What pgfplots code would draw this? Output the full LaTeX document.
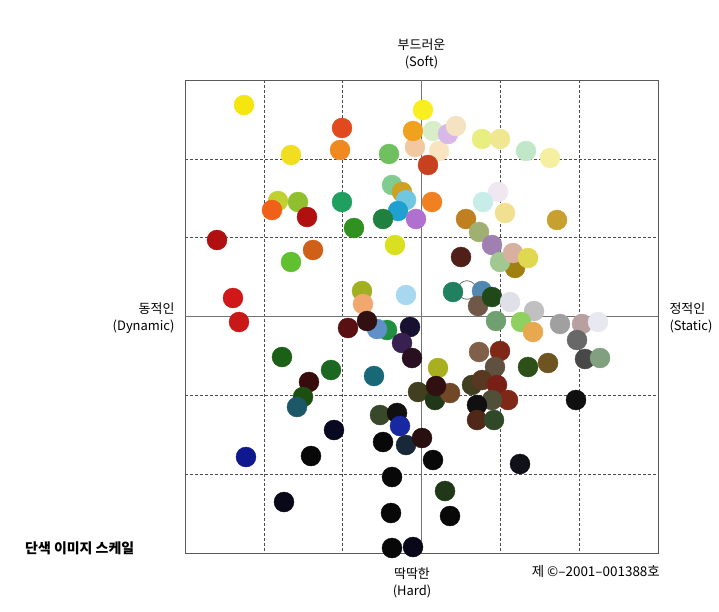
\documentclass[border=0pt]{standalone}
\usepackage{pgfplots}
\pgfplotsset{compat=1.18}
\usepackage{fontspec}
\setmainfont{Noto Sans CJK KR}
\begin{document}
\begin{tikzpicture}
\useasboundingbox (-185bp,-59bp) rectangle (534bp,553bp);
\begin{axis}[
 at={(0,0)}, anchor=south west,
 width=473bp, height=473bp, scale only axis,
 xmin=185, xmax=658, ymin=80, ymax=553, y dir=reverse,
 xtick={263.83,342.67,500.33,579.17}, ytick={158.83,237.67,395.33,474.17},
 xticklabels={}, yticklabels={}, major tick length=0pt,
 grid=major, grid style={densely dashed, draw=black!70, line width=0.6pt},
 extra x ticks={421.5}, extra y ticks={316.5},
 extra x tick labels={}, extra y tick labels={},
 extra tick style={grid style={solid, draw=black!55, line width=0.8pt}, major tick length=0pt},
 axis line style={draw=black!65, line width=0.7pt},
 clip=false,
]
\addplot[only marks, mark=*, mark size=9.3bp, mark options={fill=white, draw=black!55, line width=0.8pt}] coordinates {(467,290)};
\addplot[scatter, only marks, mark=*, mark size=10bp,
 visualization depends on={value \thisrow{c}\as\dotcol},
 scatter/@pre marker code/.code={\edef\tmpdef{\noexpand\definecolor{dotc}{HTML}{\dotcol}}\tmpdef\scope[fill=dotc, draw=dotc]},
 scatter/@post marker code/.code={\endscope}] table {
x y c
244 105 F5E610
423 110 F8EE20
342 128 E04A1E
415 147 F2C8A0
439 151 F8E4C0
413 131 F0A21E
433 131 D8EEC8
448 134 D8B8E8
456 126 F5E2C2
482 139 E8EE80
500 139 F0E890
526 151 C0E8C8
550 158 F5F0A0
291 155 F2DE20
340 150 F08A20
389 154 70C060
428 165 C84020
278 201 C0D030
272 210 F06018
298 202 90C030
307 217 B01010
342 202 20A060
217 240 B01010
392 185 80CC90
402 192 D0A020
406 200 70C8E0
398 211 20A0D0
383 219 208040
416 219 B070D0
432 202 F08020
354 228 309020
395 245 D8E020
466 219 C08020
479 232 A0B070
498 192 F0E8F0
483 202 C8ECE8
505 213 F0E090
557 220 C8A030
492 245 A080B0
291 262 60C030
313 250 D06018
233 298 D01818
239 322 C81818
515 268 A08010
500 262 A0C890
513 253 D8B0A0
528 258 E0D850
461 257 502018
362 291 A0B020
363 304 F0A870
406 295 A8D8F0
453 292 208060
482 291 5088B0
478 306 705848
492 297 204818
510 302 E0E0E8
534 311 C0C0C0
496 321 70A070
521 322 90D060
533 332 E8A850
560 324 A0A0A0
582 324 B8A0A0
598 322 E8E8F0
577 340 686868
585 359 484848
600 358 80A080
528 367 2C5018
548 363 6E5420
576 400 101010
520 464 101018
348 328 581010
387 330 209040
377 329 6090C8
367 321 301010
410 327 181030
402 343 382050
412 358 281020
282 357 1C6018
331 370 1C6820
309 382 380C0C
303 397 1C5010
297 407 1C5868
374 376 186878
334 430 080820
246 457 101890
311 456 080808
284 502 080818
438 368 A8B020
418 392 404020
435 400 203818
450 393 704828
436 386 301010
479 352 806048
500 351 802818
495 367 605040
472 385 404020
482 380 583820
497 385 782018
508 400 802818
492 400 505038
477 405 101010
477 420 502818
494 420 304828
380 415 384828
397 413 101010
400 426 1828A0
383 442 080808
406 445 182838
422 438 281010
433 460 080808
392 477 080808
445 491 203818
391 513 080808
450 516 080808
392 548 080808
413 547 080818
};
\node[align=center, font=\fontsize{13}{17}\selectfont] at (axis cs:421.5,54) {부드러운\\(Soft)};
\node[align=center, font=\fontsize{13}{17}\selectfont] at (axis cs:412,583) {딱딱한\\(Hard)};
\node[align=right, anchor=east, font=\fontsize{13}{17}\selectfont] at (axis cs:178,318) {동적인\\(Dynamic)};
\node[align=left, anchor=west, font=\fontsize{13}{17}\selectfont] at (axis cs:666,318) {정적인\\(Static)};
\node[anchor=west, font=\fontsize{14}{16}\selectfont\bfseries, inner sep=0pt] at (axis cs:25,548) {단색 이미지 스케일};
\node[anchor=east, font=\fontsize{13.5}{16}\selectfont, inner sep=0pt] at (axis cs:660,571) {제 ©–2001–001388호};
\end{axis}
\end{tikzpicture}
\end{document}
